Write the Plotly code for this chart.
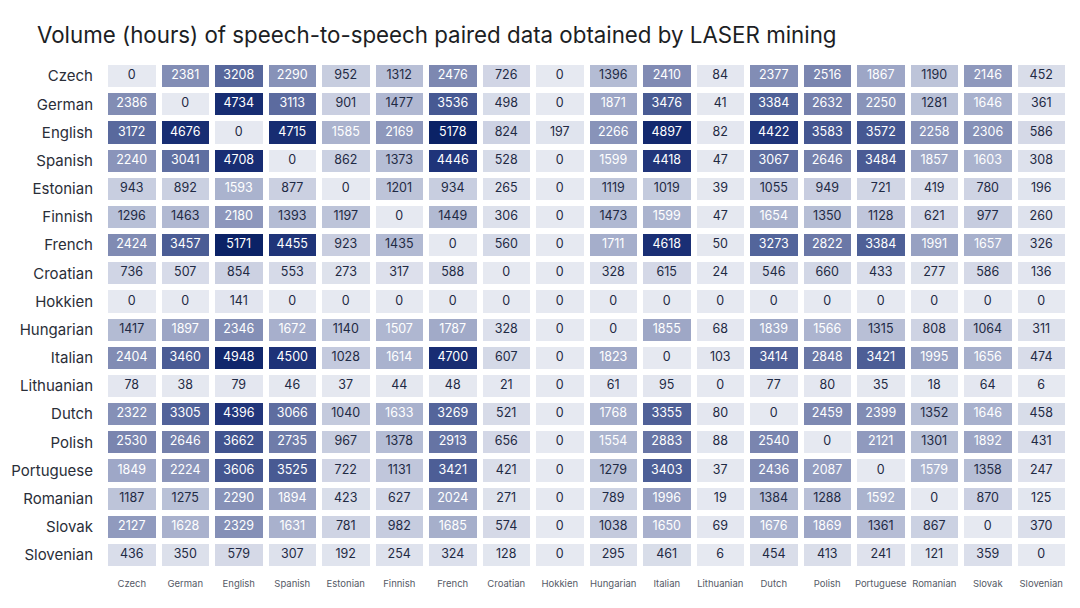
import plotly.graph_objects as go

languages = ["Czech", "German", "English", "Spanish", "Estonian", "Finnish", "French",
             "Croatian", "Hokkien", "Hungarian", "Italian", "Lithuanian", "Dutch", "Polish",
             "Portuguese", "Romanian", "Slovak", "Slovenian"]

czech      = [0, 2381, 3208, 2290, 952, 1312, 2476, 726, 0, 1396, 2410, 84, 2377, 2516, 1867, 1190, 2146, 452]
german     = [2386, 0, 4734, 3113, 901, 1477, 3536, 498, 0, 1871, 3476, 41, 3384, 2632, 2250, 1281, 1646, 361]
english    = [3172, 4676, 0, 4715, 1585, 2169, 5178, 824, 197, 2266, 4897, 82, 4422, 3583, 3572, 2258, 2306, 586]
spanish    = [2240, 3041, 4708, 0, 862, 1373, 4446, 528, 0, 1599, 4418, 47, 3067, 2646, 3484, 1857, 1603, 308]
estonian   = [943, 892, 1593, 877, 0, 1201, 934, 265, 0, 1119, 1019, 39, 1055, 949, 721, 419, 780, 196]
finnish    = [1296, 1463, 2180, 1393, 1197, 0, 1449, 306, 0, 1473, 1599, 47, 1654, 1350, 1128, 621, 977, 260]
french     = [2424, 3457, 5171, 4455, 923, 1435, 0, 560, 0, 1711, 4618, 50, 3273, 2822, 3384, 1991, 1657, 326]
croatian   = [736, 507, 854, 553, 273, 317, 588, 0, 0, 328, 615, 24, 546, 660, 433, 277, 586, 136]
hokkien    = [0, 0, 141, 0, 0, 0, 0, 0, 0, 0, 0, 0, 0, 0, 0, 0, 0, 0]
hungarian  = [1417, 1897, 2346, 1672, 1140, 1507, 1787, 328, 0, 0, 1855, 68, 1839, 1566, 1315, 808, 1064, 311]
italian    = [2404, 3460, 4948, 4500, 1028, 1614, 4700, 607, 0, 1823, 0, 103, 3414, 2848, 3421, 1995, 1656, 474]
lithuanian = [78, 38, 79, 46, 37, 44, 48, 21, 0, 61, 95, 0, 77, 80, 35, 18, 64, 6]
dutch      = [2322, 3305, 4396, 3066, 1040, 1633, 3269, 521, 0, 1768, 3355, 80, 0, 2459, 2399, 1352, 1646, 458]
polish     = [2530, 2646, 3662, 2735, 967, 1378, 2913, 656, 0, 1554, 2883, 88, 2540, 0, 2121, 1301, 1892, 431]
portuguese = [1849, 2224, 3606, 3525, 722, 1131, 3421, 421, 0, 1279, 3403, 37, 2436, 2087, 0, 1579, 1358, 247]
romanian   = [1187, 1275, 2290, 1894, 423, 627, 2024, 271, 0, 789, 1996, 19, 1384, 1288, 1592, 0, 870, 125]
slovak     = [2127, 1628, 2329, 1631, 781, 982, 1685, 574, 0, 1038, 1650, 69, 1676, 1869, 1361, 867, 0, 370]
slovenian  = [436, 350, 579, 307, 192, 254, 324, 128, 0, 295, 461, 6, 454, 413, 241, 121, 359, 0]

z = [czech, german, english, spanish, estonian, finnish, french, croatian, hokkien,
     hungarian, italian, lithuanian, dutch, polish, portuguese, romanian, slovak, slovenian]

colorscale = [
    [0.0, "#e6e9f1"],
    [0.15, "#cfd4e4"],
    [0.27, "#b4bcd4"],
    [0.40, "#939dc0"],
    [0.50, "#7782ad"],
    [0.63, "#54659b"],
    [0.75, "#374a88"],
    [0.87, "#1d3278"],
    [1.0, "#0b2266"],
]

FONT = "Inter, Lato, sans-serif"
n = len(languages)

fig = go.Figure()
fig.add_trace(go.Heatmap(
    z=z, x=languages, y=languages,
    colorscale=colorscale, zmin=0, zmax=5178,
    xgap=6, ygap=6, showscale=False, hoverinfo="skip",
))

# text overlay with per-cell colors
tx, ty, tt, tc = [], [], [], []
for i, row_lang in enumerate(languages):
    for j, col_lang in enumerate(languages):
        v = z[i][j]
        tx.append(col_lang)
        ty.append(row_lang)
        tt.append(str(v))
        tc.append("#ffffff" if v >= 1500 else "#1f2a44")

fig.add_trace(go.Scatter(
    x=tx, y=ty, mode="text", text=tt,
    textfont=dict(family=FONT, size=12.5, color=tc),
    hoverinfo="skip", showlegend=False,
))

fig.update_layout(
    width=1080, height=608,
    paper_bgcolor="white", plot_bgcolor="white",
    margin=dict(l=97, r=20, t=54, b=47, autoexpand=False),
    title=dict(
        text="Volume (hours) of speech-to-speech paired data obtained by LASER mining",
        x=29 / 1080, xanchor="left", xref="container",
        y=1 - 27 / 608, yanchor="middle", yref="container",
        font=dict(family=FONT, size=22.3, color="#1c1e24"),
        automargin=False,
    ),
    showlegend=False,
)
fig.update_xaxes(
    showgrid=False, zeroline=False, showline=False, automargin=False,
    range=[-0.5, n - 0.5],
    ticks="outside", ticklen=6, tickcolor="rgba(0,0,0,0)",
    tickfont=dict(family=FONT, size=9.5, color="#555a66"),
    tickangle=0,
)
fig.update_yaxes(
    showgrid=False, zeroline=False, showline=False, automargin=False,
    range=[n - 0.5, -0.5],
    ticks="outside", ticklen=8, tickcolor="rgba(0,0,0,0)",
    tickfont=dict(family=FONT, size=15, color="#2a2e38"),
)

fig.write_html("out.html")
